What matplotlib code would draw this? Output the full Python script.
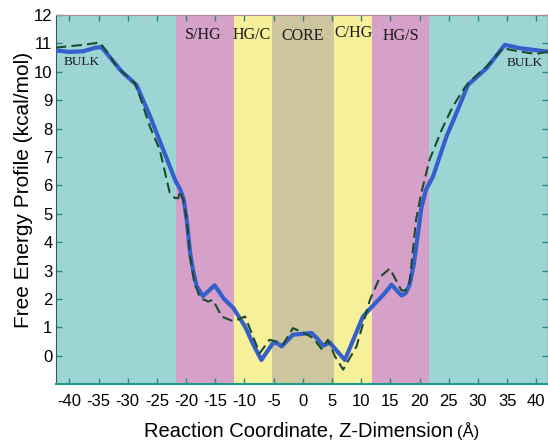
import matplotlib.pyplot as plt

# region boundaries along z (Angstrom) and their fill colours
region_edges = [-42.3, -21.7, -11.8, -5.3, 5.3, 11.8, 21.7, 42.0]
region_colors = ['#9dd5d5', '#d5a1c8', '#f6f09b', '#cdc59d', '#f6f09b', '#d5a1c8', '#9dd5d5']

region_names = ['S/HG', 'HG/C', 'CORE', 'C/HG', 'HG/S', 'BULK', 'BULK']
name_x = [-17.0, -8.8, 0.0, 8.6, 16.8, -37.9, 38.0]
name_y = [11.3, 11.3, 11.25, 11.35, 11.25, 10.33, 10.3]

# solid blue profile
z_solid = [-42.3, -40, -37.7, -35.5, -34.5, -33, -31, -28.5, -26.2, -23.9, -21.9, -21.0,
           -20.4, -19.9, -19.3, -18.8, -18.2, -17.1, -15.1, -13.5, -11.9, -9.9, -8.5, -7.1,
           -5.1, -4.5, -3.6, -1.7, 1.5, 2.5, 3.5, 4.6, 5.5, 7.2, 10.3, 11.5, 13.8, 15.2,
           16.9, 17.6, 18.3, 19.0, 19.6, 20.3, 21.1, 22.3, 24.6, 26.3, 28.3, 31.5, 34.6,
           37.2, 42.0]
g_solid = [10.75, 10.7, 10.72, 10.85, 10.87, 10.5, 10.0, 9.54, 8.45, 7.25, 6.2, 5.85,
           5.5, 4.8, 3.6, 3.0, 2.45, 2.1, 2.48, 2.0, 1.68, 1.03, 0.4, -0.15,
           0.45, 0.45, 0.33, 0.74, 0.8, 0.6, 0.35, 0.47, 0.25, -0.15, 1.38, 1.65, 2.15, 2.5,
           2.12, 2.2, 2.5, 3.2, 4.1, 5.2, 5.85, 6.31, 7.72, 8.54, 9.54, 10.13, 10.95,
           10.83, 10.71]

# dashed profile
z_dash = [-42.3, -40, -37.6, -34.8, -33.5, -31.9, -28.8, -27.9, -26.2, -24.5, -22.8, -21.9,
          -21.3, -21.1, -20.5, -19.9, -19.3, -18.6, -17.6, -16.2, -15.4, -13.9, -11.9, -9.9,
          -7.4, -5.7, -4.5, -3.4, -1.7, 0.05, 1.8, 3.2, 4.3, 5.5, 6.9, 9.2, 11.5, 13.2,
          14.9, 16.9, 17.6, 18.3, 19.4, 20.3, 21.7, 23.8, 25.7, 27.7, 28.6, 31.5, 34.3,
          37.2, 40.0, 42.0]
g_dash = [10.85, 10.9, 10.95, 11.03, 10.7, 10.19, 9.6, 9.13, 8.07, 7.25, 5.74, 5.55,
          5.55, 5.8, 5.5, 4.8, 3.5, 2.6, 2.03, 1.91, 1.97, 1.38, 1.21, 1.38,
          0.09, 0.56, 0.5, 0.39, 0.97, 0.82, 0.62, 0.24, 0.56, -0.02, -0.49, 0.33, 1.97, 2.77,
          3.07, 2.3, 2.3, 2.6, 4.79, 5.73, 6.9, 7.96, 8.78, 9.43, 9.66, 10.19, 10.83,
          10.71, 10.63, 10.71]

x_ticks = list(range(-40, 45, 5))
y_ticks = list(range(0, 13))

plt.rcParams['font.family'] = ['Liberation Sans', 'DejaVu Sans']
plt.rcParams['axes.unicode_minus'] = False

fig = plt.figure(figsize=(5.48, 4.41), dpi=100)
ax = fig.add_axes([0.102, 0.129, 0.898, 0.837])

for i, col in enumerate(region_colors):
    ax.axvspan(region_edges[i], region_edges[i + 1], color=col, lw=0, zorder=0)

for name, x, y in zip(region_names, name_x, name_y):
    ax.text(x, y, name, ha='center', va='center', fontsize=11.5 if name != 'BULK' else 9.5,
            family=['Liberation Serif', 'DejaVu Serif'], color='#1a1a1a')

ax.plot(z_solid, g_solid, color='#3560cc', lw=3.0, solid_capstyle='round',
        solid_joinstyle='round', zorder=3)
ax.plot(z_dash, g_dash, color='#1d4a2c', lw=1.5, ls=(0, (5, 2.5)), zorder=4)

ax.set_xlim(region_edges[0], region_edges[-1])
ax.set_ylim(-1, 12)
ax.set_xticks(x_ticks)
ax.set_yticks(y_ticks)
ax.tick_params(direction='in', top=True, right=True, length=4, width=1,
               color='#2a8a80', labelsize=12)
ax.tick_params(axis='x', pad=7)
ax.tick_params(axis='y', pad=2.5)

ax.spines['bottom'].set_color('#1f9a8a')
ax.spines['bottom'].set_linewidth(1.5)
ax.spines['left'].set_color('#2f5f5a')
ax.spines['top'].set_color('#b08a9a')
ax.spines['top'].set_linewidth(0.8)

fig.text(0.042, 0.569, 'Free Energy Profile (kcal/mol)', rotation=90,
         ha='center', va='center', fontsize=15)
fig.text(0.826, 0.010, 'Reaction Coordinate, Z-Dimension', ha='right', va='baseline',
         fontsize=14.5)
fig.text(0.834, 0.010, '(Å)', ha='left', va='baseline', fontsize=12)

fig.savefig('out.png', dpi=100)
